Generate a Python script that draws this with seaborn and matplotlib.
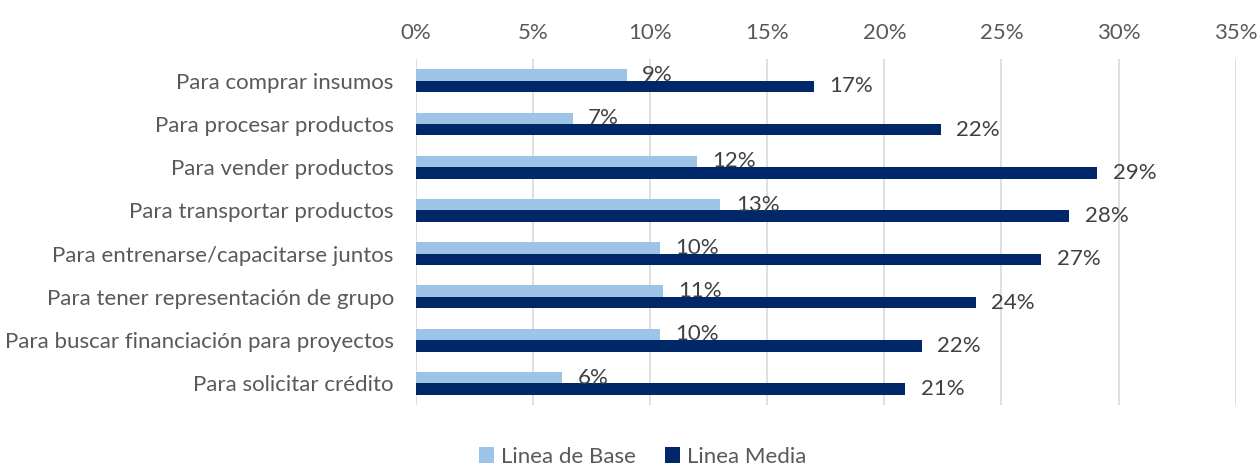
"""
Horizontal grouped bar chart: reasons for group work, baseline vs midline.
"""

import matplotlib.pyplot as plt
import pandas as pd
import seaborn as sns
from matplotlib.ticker import PercentFormatter

CATEGORIES: list[str] = [
    "Para comprar insumos",
    "Para procesar productos",
    "Para vender productos",
    "Para transportar productos",
    "Para entrenarse/capacitarse juntos",
    "Para tener representación de grupo",
    "Para buscar financiación para proyectos",
    "Para solicitar crédito",
]

LINEA_BASE: list[float] = [9.0, 6.7, 12.0, 13.0, 10.4, 10.55, 10.4, 6.25]
LINEA_MEDIA: list[float] = [17.0, 22.4, 29.1, 27.9, 26.7, 23.9, 21.6, 20.9]

SERIES_NAMES: list[str] = ["Linea de Base", "Linea Media"]
SERIES_COLORS: list[str] = ["#9dc3e6", "#002868"]

TEXT_COLOR: str = "#595959"
LABEL_COLOR: str = "#404040"
FONT_SIZE: float = 16


def create_chart() -> None:
    """Build and save the grouped bar chart."""
    sns.set_style("white")
    plt.rcParams["font.family"] = ["Lato", "DejaVu Sans"]

    frame = pd.DataFrame(
        {
            "Categoria": CATEGORIES * 2,
            "Serie": [SERIES_NAMES[0]] * len(CATEGORIES)
            + [SERIES_NAMES[1]] * len(CATEGORIES),
            "Valor": LINEA_BASE + LINEA_MEDIA,
        }
    )

    fig = plt.figure(figsize=(12.57, 4.66), dpi=100)
    ax = fig.add_axes([0.331, 0.131, 0.652, 0.742])

    sns.barplot(
        data=frame,
        y="Categoria",
        x="Valor",
        hue="Serie",
        hue_order=SERIES_NAMES,
        palette=SERIES_COLORS,
        orient="h",
        width=0.53,
        gap=0,
        saturation=1,
        linewidth=0,
        ax=ax,
    )

    for container in ax.containers:
        labels = [f"{bar.get_width():.0f}%" for bar in container]
        texts = ax.bar_label(
            container,
            labels=labels,
            padding=11,
            fontsize=FONT_SIZE,
            color=LABEL_COLOR,
        )
        for text in texts:
            x_pos, y_pos = text.get_position()
            text.set_position((x_pos, y_pos + 0.05))

    ax.set_xlim(0, 35)
    ax.set_xticks(range(0, 36, 5))
    ax.xaxis.set_major_formatter(PercentFormatter(decimals=0))
    ax.xaxis.tick_top()
    ax.grid(axis="x", color="#d9d9d9", linewidth=1.2)
    ax.set_axisbelow(True)
    ax.tick_params(axis="x", length=0, pad=12, labelsize=FONT_SIZE,
                   labelcolor=TEXT_COLOR)
    ax.tick_params(axis="y", length=0, pad=16, labelsize=FONT_SIZE,
                   labelcolor=TEXT_COLOR)
    ax.set_xlabel("")
    ax.set_ylabel("")
    for spine in ax.spines.values():
        spine.set_visible(False)

    handles, labels = ax.get_legend_handles_labels()
    ax.legend_.remove()
    fig.legend(
        handles,
        labels,
        loc="center",
        bbox_to_anchor=(0.511, 0.02),
        ncol=2,
        frameon=False,
        fontsize=FONT_SIZE,
        labelcolor=TEXT_COLOR,
        handlelength=0.7,
        handleheight=0.7,
        handletextpad=0.3,
        columnspacing=1.3,
    )

    fig.savefig("out.png", dpi=100)


if __name__ == "__main__":
    create_chart()
